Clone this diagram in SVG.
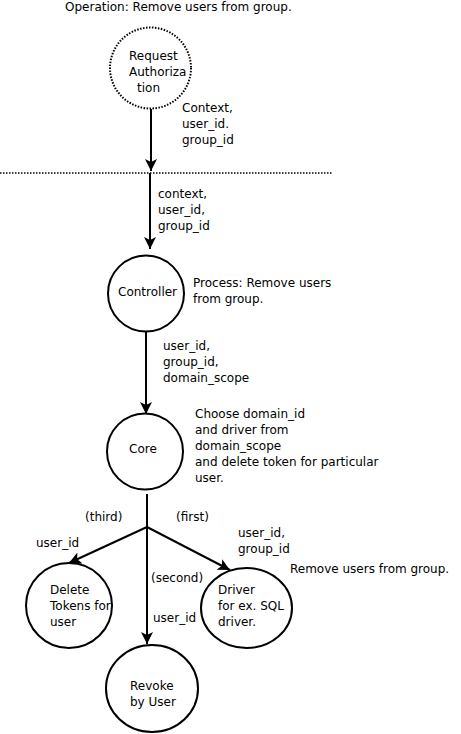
<svg xmlns="http://www.w3.org/2000/svg" width="461" height="734" viewBox="0 0 461 734">
<defs>
<marker id="arr" markerWidth="12" markerHeight="14" refX="12" refY="6" orient="auto" markerUnits="userSpaceOnUse">
<path d="M0,0 L12,6 L0,12 L3,6 Z" fill="#000"/>
</marker>
<style>
text{font-family:"DejaVu Sans",sans-serif;font-size:12px;fill:#000}
.node{fill:#fff;stroke:#000;stroke-width:2}
.dot{fill:#fff;stroke:#000;stroke-width:2;stroke-dasharray:1.5 1.5}
.edge{fill:none;stroke:#000;stroke-width:2}
</style>
</defs>
<rect width="461" height="734" fill="#fff"/>
<text x="65" y="11">Operation: Remove users from group.</text>
<g id="connectors">
<line x1="0" y1="173" x2="332" y2="173" stroke="#000" stroke-width="1.5" stroke-dasharray="1.5 1.5"/>
<line class="edge" x1="151" y1="109" x2="151" y2="171" marker-end="url(#arr)"/>
<line class="edge" x1="150" y1="173" x2="150" y2="249" marker-end="url(#arr)"/>
<line class="edge" x1="146" y1="332" x2="146" y2="414" marker-end="url(#arr)"/>
<line class="edge" x1="147" y1="494" x2="147" y2="644" marker-end="url(#arr)"/>
<line class="edge" x1="147" y1="527" x2="69" y2="563" marker-end="url(#arr)"/>
<line class="edge" x1="147" y1="527" x2="230" y2="570" marker-end="url(#arr)"/>
<text x="182" y="112">Context,</text>
<text x="182" y="128">user_id.</text>
<text x="182" y="144">group_id</text>
<text x="158" y="198">context,</text>
<text x="158" y="214">user_id,</text>
<text x="158" y="230">group_id</text>
<text x="163" y="350">user_id,</text>
<text x="163" y="366">group_id,</text>
<text x="163" y="382">domain_scope</text>
<text x="85" y="521">(third)</text>
<text x="176" y="521">(first)</text>
<text x="36" y="547">user_id</text>
<text x="238" y="537">user_id,</text>
<text x="238" y="553">group_id</text>
<text x="151" y="582">(second)</text>
<text x="153" y="622">user_id</text>
</g>
<g id="request">
<circle class="dot" cx="150.5" cy="68" r="40.5"/>
<text x="129" y="60">Request</text>
<text x="129" y="76">Authoriza</text>
<text x="137" y="92">tion</text>
</g>
<g id="controller">
<circle class="node" cx="146" cy="293.5" r="38"/>
<text x="118" y="296">Controller</text>
<text x="193" y="287">Process: Remove users</text>
<text x="193" y="303">from group.</text>
</g>
<g id="core">
<circle class="node" cx="145" cy="451.5" r="38"/>
<text x="129" y="453">Core</text>
<text x="195" y="418">Choose domain_id</text>
<text x="195" y="434">and driver from</text>
<text x="195" y="450">domain_scope</text>
<text x="195" y="466">and delete token for particular</text>
<text x="195" y="482">user.</text>
</g>
<g id="delete">
<ellipse class="node" cx="69" cy="605.5" rx="43" ry="42.5"/>
<text x="50" y="594">Delete</text>
<text x="50" y="610">Tokens for</text>
<text x="50" y="626">user</text>
</g>
<g id="driver">
<ellipse class="node" cx="246.5" cy="608" rx="45.5" ry="40"/>
<text x="218" y="594">Driver</text>
<text x="218" y="610">for ex. SQL</text>
<text x="218" y="626">driver.</text>
<text x="290" y="573">Remove users from group.</text>
</g>
<g id="revoke">
<ellipse class="node" cx="152" cy="688.5" rx="46" ry="43.5"/>
<text x="130" y="690">Revoke</text>
<text x="130" y="706">by User</text>
</g>
</svg>
